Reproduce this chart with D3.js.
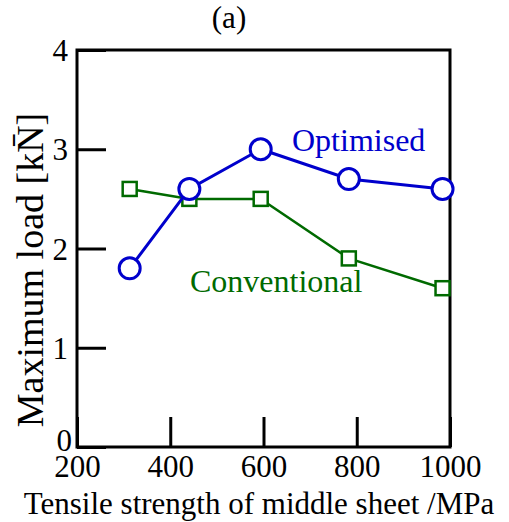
<!DOCTYPE html>
<html>
<head>
<meta charset="utf-8">
<script src="https://cdn.jsdelivr.net/npm/d3@7"></script>
<style>
  body { margin: 0; background: #fff; }
  svg { display: block; }
</style>
</head>
<body>
<script>
// values
var strength = [313, 441, 594, 783, 984]
var optimised = [1.8, 2.6, 3.0, 2.7, 2.6]
var conventional = [2.6, 2.5, 2.5, 1.9, 1.6]
var xTicks = [200, 400, 600, 800, 1000]
var yTicks = [0, 1, 2, 3, 4]

var width = 509, height = 522
var margin = {top: 50, right: 59, bottom: 75, left: 77}
var serif = "Liberation Serif"

var xScale = d3.scaleLinear().domain([200, 1000]).range([margin.left, width - margin.right])
var yScale = d3.scaleLinear().domain([0, 4]).range([height - margin.bottom, margin.top])

const svg = d3.select("body").append("svg")
    .attr("width", width)
    .attr("height", height)
    .attr("font-family", serif)

// axes, ticks drawn inward
var xAxis = g => g
    .attr("transform", `translate(0,${yScale(0)})`)
    .call(d3.axisBottom(xScale).tickValues(xTicks).tickFormat(d3.format("d")).tickSizeInner(-30).tickSizeOuter(0))
    .call(g => g.select(".domain").remove())
    .call(g => g.attr("font-family", serif))
    .call(g => g.selectAll("line").attr("stroke", "#000").attr("stroke-width", 3))
    .call(g => g.selectAll("text").attr("font-size", 31).attr("fill", "#000").attr("y", 30).attr("dy", null))
var yAxis = g => g
    .attr("transform", `translate(${xScale(200)},0)`)
    .call(d3.axisLeft(yScale).tickValues(yTicks).tickFormat(d3.format("d")).tickSizeInner(-29).tickSizeOuter(0))
    .call(g => g.select(".domain").remove())
    .call(g => g.attr("font-family", serif))
    .call(g => g.selectAll("line").attr("stroke", "#000").attr("stroke-width", 3))
    .call(g => g.selectAll("text").attr("font-size", 31).attr("fill", "#000")
        .attr("x", d => d === 0 ? -5 : -9)
        .attr("dy", d => d === 0 ? "0.1em" : "0.34em"))

svg.append("g").call(xAxis)
svg.append("g").call(yAxis)

// frame
svg.append("rect")
    .attr("x", xScale(200))
    .attr("y", yScale(4))
    .attr("width", xScale(1000) - xScale(200))
    .attr("height", yScale(0) - yScale(4))
    .attr("fill", "none")
    .attr("stroke", "#000")
    .attr("stroke-width", 3)

var line = d3.line().x((d, i) => xScale(strength[i])).y(d => yScale(d))

// conventional
var green = "#006a00"
svg.append("path")
    .datum(conventional)
    .attr("d", line)
    .attr("fill", "none")
    .attr("stroke", green)
    .attr("stroke-width", 2.5)
svg.append("g")
    .selectAll("rect")
    .data(conventional)
    .join("rect")
        .attr("x", (d, i) => xScale(strength[i]) - 7)
        .attr("y", d => yScale(d) - 7)
        .attr("width", 14)
        .attr("height", 14)
        .attr("fill", "#fff")
        .attr("stroke", green)
        .attr("stroke-width", 2.5)

// optimised
var blue = "#0000cc"
svg.append("path")
    .datum(optimised)
    .attr("d", line)
    .attr("fill", "none")
    .attr("stroke", blue)
    .attr("stroke-width", 3)
svg.append("g")
    .selectAll("circle")
    .data(optimised)
    .join("circle")
        .attr("cx", (d, i) => xScale(strength[i]))
        .attr("cy", d => yScale(d))
        .attr("r", 10.5)
        .attr("fill", "#fff")
        .attr("stroke", blue)
        .attr("stroke-width", 3)

// series labels
svg.append("text")
    .attr("x", 292).attr("y", 151)
    .attr("font-size", 32)
    .attr("fill", blue)
    .text("Optimised")
svg.append("text")
    .attr("x", 190).attr("y", 292)
    .attr("font-size", 32)
    .attr("fill", green)
    .text("Conventional")

// titles
svg.append("text")
    .attr("x", 229).attr("y", 28)
    .attr("text-anchor", "middle")
    .attr("font-size", 31)
    .text("(a)")
svg.append("text")
    .attr("x", 259).attr("y", 514)
    .attr("text-anchor", "middle")
    .attr("font-size", 31)
    .text("Tensile strength of middle sheet /MPa")
svg.append("text")
    .attr("transform", "translate(43,270) rotate(-90)")
    .attr("text-anchor", "middle")
    .attr("font-size", 38)
    .text("Maximum load [kN\u0304]")
</script>
</body>
</html>
